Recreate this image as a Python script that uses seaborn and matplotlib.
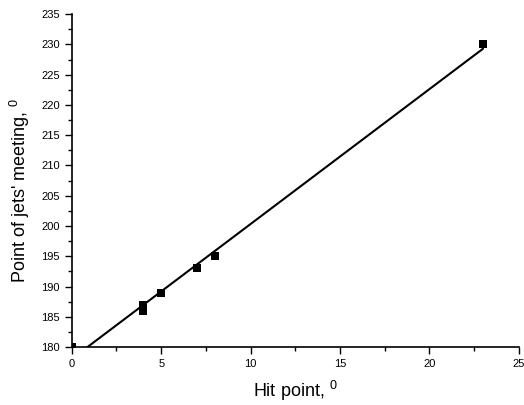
import numpy as np
import pandas as pd
import matplotlib
matplotlib.use("Agg")
import matplotlib.pyplot as plt
from matplotlib.ticker import MultipleLocator
import seaborn as sns

hit_point = [0, 4, 4, 5, 7, 8, 23]
meeting_point = [180, 187, 186, 189, 193, 195, 230]

df = pd.DataFrame({"hit": hit_point, "meet": meeting_point})

sns.set_style("ticks")
plt.rcParams["font.family"] = ["Liberation Sans", "DejaVu Sans"]
plt.rcParams["mathtext.fontset"] = "custom"
plt.rcParams["mathtext.rm"] = "Liberation Sans"
plt.rcParams["mathtext.it"] = "Liberation Sans"
plt.rcParams["text.color"] = "black"
plt.rcParams["axes.labelcolor"] = "black"

fig = plt.figure(figsize=(5.24, 4.05), dpi=100)
ax = fig.add_axes([0.137, 0.143, 0.853, 0.822])

sns.regplot(data=df, x="hit", y="meet", ax=ax, ci=None, truncate=True,
            marker="s", color="black",
            scatter_kws=dict(s=28, linewidths=0, alpha=1),
            line_kws=dict(lw=1.5))

ax.set_xlim(0, 25)
ax.set_ylim(180, 235)
ax.xaxis.set_major_locator(MultipleLocator(5))
ax.xaxis.set_minor_locator(MultipleLocator(2.5))
ax.yaxis.set_major_locator(MultipleLocator(5))
ax.yaxis.set_minor_locator(MultipleLocator(2.5))
ax.tick_params(which="major", direction="out", length=5, width=1, labelsize=8,
               colors="black", labelcolor="black")
ax.tick_params(which="minor", direction="out", length=3, width=1, colors="black")
for s in ["top", "right"]:
    ax.spines[s].set_visible(False)
for s in ["left", "bottom"]:
    ax.spines[s].set_linewidth(1.2)
    ax.spines[s].set_color("black")

ax.set_xlabel("Hit point, $^{0}$", fontsize=13, labelpad=7, color="black")
ax.set_ylabel("Point of jets' meeting, $^{0}$", fontsize=13, color="black")
ax.yaxis.set_label_coords(-0.089, 0.472)

fig.savefig("out.png", dpi=100)
